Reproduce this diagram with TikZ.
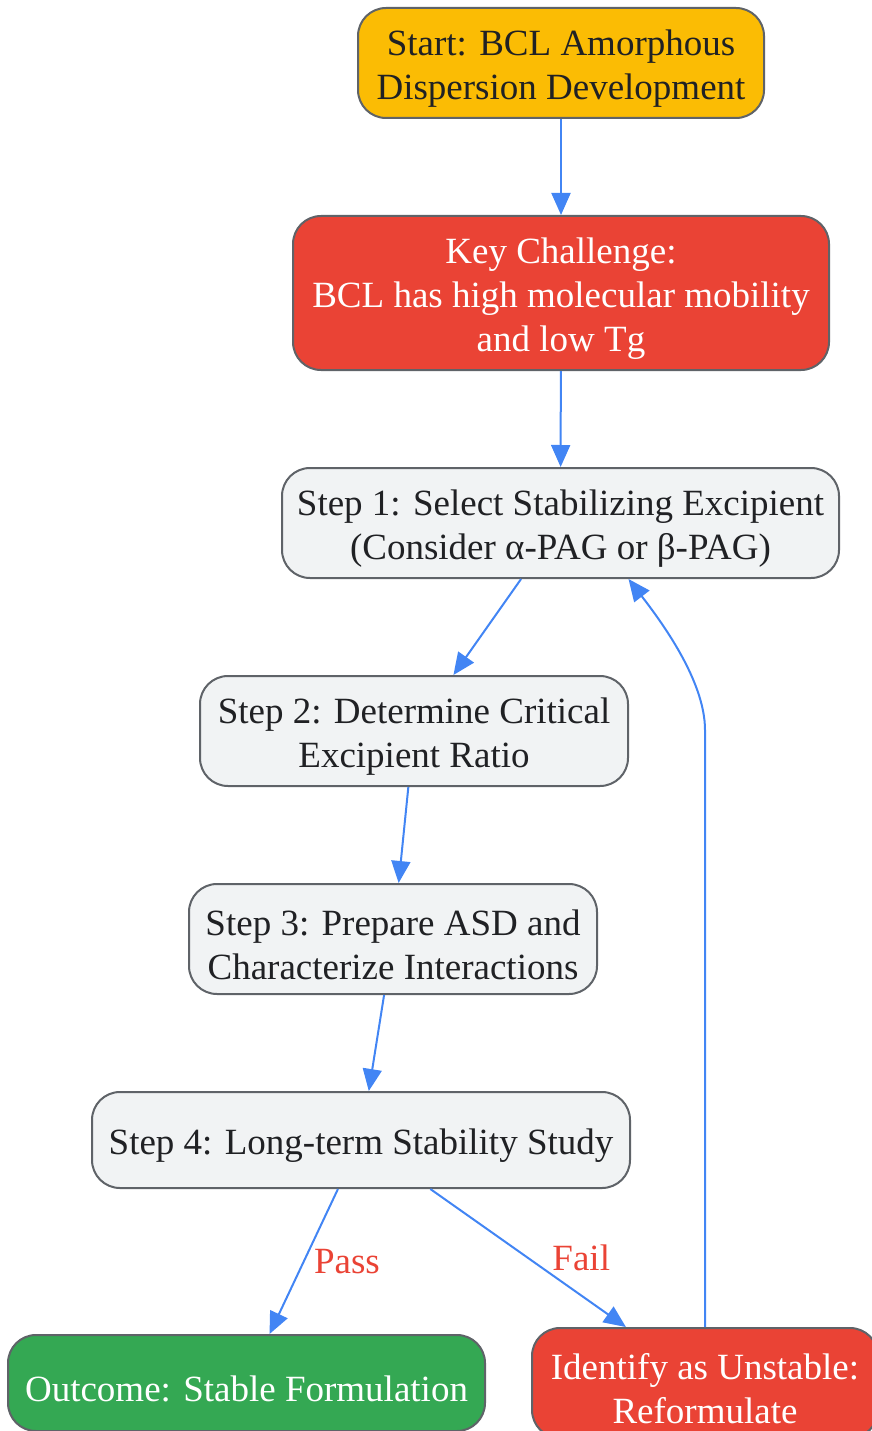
\documentclass[tikz,border=0pt]{standalone}
\usepackage{fontspec}
\setmainfont{Liberation Serif}
\usetikzlibrary{arrows.meta,calc}

\definecolor{startyellow}{HTML}{FBBC04}
\definecolor{alertred}{HTML}{EA4335}
\definecolor{stepgray}{HTML}{F1F3F4}
\definecolor{passgreen}{HTML}{34A853}
\definecolor{edgegray}{HTML}{5F6368}
\definecolor{flowblue}{HTML}{4285F4}
\definecolor{inkdark}{HTML}{202124}

\newcommand{\padtop}{\rule{0pt}{37pt}}

\begin{document}
\begin{tikzpicture}[x=1pt,y=-1pt,
	box/.style={draw=edgegray, line width=2pt, rounded corners=28pt, align=center,
		inner sep=0pt, text=inkdark, font=\fontsize{37}{44}\selectfont},
	flow/.style={draw=flowblue, line width=2pt, -{Triangle[length=22pt,width=19pt]}},
	lbl/.style={text=alertred, font=\fontsize{37}{44}\selectfont, anchor=west}]
	\useasboundingbox (0,0) rectangle (871,1431);
	\node[box, fill=startyellow, minimum width=406pt, minimum height=110pt] (start) at (561,63) {\padtop Start: BCL Amorphous\\Dispersion Development};
	\node[box, fill=alertred, text=white, minimum width=536pt, minimum height=154pt] (key) at (561,293) {\padtop Key Challenge:\\BCL has high molecular mobility\\and low Tg};
	\node[box, fill=stepgray, minimum width=557pt, minimum height=110pt] (s1) at (560.5,523) {\padtop Step 1: Select Stabilizing Excipient\\(Consider α-PAG or β-PAG)};
	\node[box, fill=stepgray, minimum width=428pt, minimum height=110pt] (s2) at (414,731) {\padtop Step 2: Determine Critical\\Excipient Ratio};
	\node[box, fill=stepgray, minimum width=408pt, minimum height=110pt] (s3) at (393,939) {\padtop Step 3: Prepare ASD and\\Characterize Interactions};
	\node[box, fill=stepgray, minimum width=538pt, minimum height=96pt] (s4) at (361,1140) {\padtop Step 4: Long-term Stability Study};
	\node[box, fill=passgreen, text=white, minimum width=477pt, minimum height=96pt] (done) at (246.5,1383) {\padtop Outcome: Stable Formulation};
	\node[box, fill=alertred, text=white, minimum width=346pt, minimum height=110pt] (redo) at (705,1383) {\padtop Identify as Unstable:\\Reformulate};
	% main flow
	\draw[flow] (start) -- (key);
	\draw[flow] (key) -- (s1);
	\draw[flow] (s1) -- (s2);
	\draw[flow] (s2) -- (s3);
	\draw[flow] (s3) -- (s4);
	\draw[flow] (s4) -- node[lbl, xshift=6pt] {Pass} (done);
	\draw[flow] (s4) -- node[lbl, xshift=20pt] {Fail} (redo);
	% loop back
	\draw[flow] (redo.north) -- (705,730) .. controls (705,680) and (660,620) .. ($(s1.south)+(68,0)$);
\end{tikzpicture}
\end{document}
